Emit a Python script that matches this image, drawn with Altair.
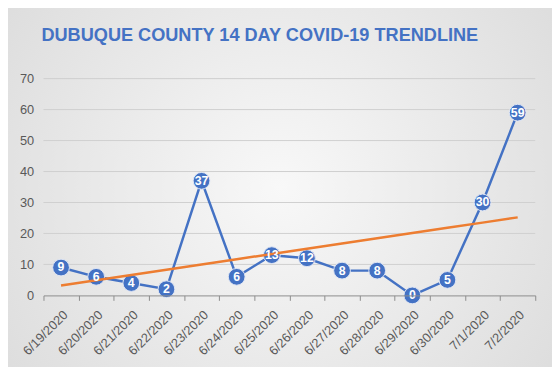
import altair as alt
import pandas as pd
import numpy as np

dates = ["6/19/2020", "6/20/2020", "6/21/2020", "6/22/2020", "6/23/2020", "6/24/2020",
         "6/25/2020", "6/26/2020", "6/27/2020", "6/28/2020", "6/29/2020", "6/30/2020",
         "7/1/2020", "7/2/2020"]
cases = [9, 6, 4, 2, 37, 6, 13, 12, 8, 8, 0, 5, 30, 59]
yticks = [0, 10, 20, 30, 40, 50, 60, 70]
title_text = "DUBUQUE COUNTY 14 DAY COVID-19 TRENDLINE"

idx = np.arange(len(cases))
slope, intercept = np.polyfit(idx, cases, 1)
trend = list(intercept + slope * idx)

df = pd.DataFrame({"date": dates, "cases": cases, "trend": trend})
grid_df = pd.DataFrame({"cases": yticks[1:]})
title_df = pd.DataFrame({"t": [title_text]})

W, H = 499, 220
PL, PT, PR, PB = 36, 69, 17, 70

blue = "#4472C4"
orange = "#ED7D31"

yscale = alt.Scale(domain=[0, 70], nice=False)

xenc = alt.X("date:N", sort=dates, title=None, bandPosition=0.5,
             scale=alt.Scale(type="band", paddingInner=0, paddingOuter=0),
             axis=alt.Axis(tickBand="extent", labelAngle=-45, labelFont="Liberation Sans",
                           labelFontSize=13, labelColor="#595959", tickSize=5,
                           tickColor="#8c8c8c", domainColor="#8c8c8c", labelPadding=8,
                           grid=False, zindex=1))
yaxis = alt.Axis(values=yticks, tickCount=8, labelOverlap=False, domain=False, ticks=False,
                 grid=False, labelPadding=10, labelFont="Liberation Sans", labelFontSize=13,
                 labelColor="#595959", zindex=1)
yenc = alt.Y("cases:Q", title=None, scale=yscale, axis=yaxis)

bg = alt.Chart(title_df).mark_rect(
    color=alt.Gradient(gradient="radial", x1=0.5, y1=0.5, r1=0, x2=0.5, y2=0.5, r2=0.75,
                       stops=[alt.GradientStop(color="#f8f8f8", offset=0),
                              alt.GradientStop(color="#d6d6d6", offset=1)])
).encode(x=alt.value(-PL - 8), x2=alt.value(W + PR + 8),
         y=alt.value(-PT - 8), y2=alt.value(H + PB + 8))

grid = alt.Chart(grid_df).mark_rule(color="#cfcfcf", strokeWidth=1).encode(
    y=yenc, x=alt.value(0), x2=alt.value(W))

base = alt.Chart(df)
line = base.mark_line(color=blue, strokeWidth=2.5).encode(x=xenc, y=yenc)
pts = base.mark_point(filled=True, shape="circle", size=290, color=blue, opacity=1,
                      stroke="#dfe6f3", strokeWidth=1).encode(x=xenc, y=yenc)
tr = base.mark_line(color=orange, strokeWidth=2.5).encode(x=xenc, y="trend:Q")
lbl = base.mark_text(color="white", fontWeight="bold", font="Liberation Sans",
                     fontSize=12.5).encode(x=xenc, y=yenc, text="cases:Q")

ttl = alt.Chart(title_df).mark_text(font="Liberation Sans", fontSize=18.4,
                                    fontWeight="bold", color="#4472C4", align="center",
                                    baseline="middle").encode(
    x=alt.value(219.5), y=alt.value(-44), text="t:N")

chart = alt.layer(bg, grid, line, pts, tr, lbl, ttl).properties(
    width=W, height=H,
    autosize=alt.AutoSizeParams(type="none"),
    padding={"left": PL, "top": PT, "right": PR, "bottom": PB},
).configure_view(stroke=None).configure(background="#e6e6e6")

chart.save("out.html", embed_options={"renderer": "svg", "actions": False})
